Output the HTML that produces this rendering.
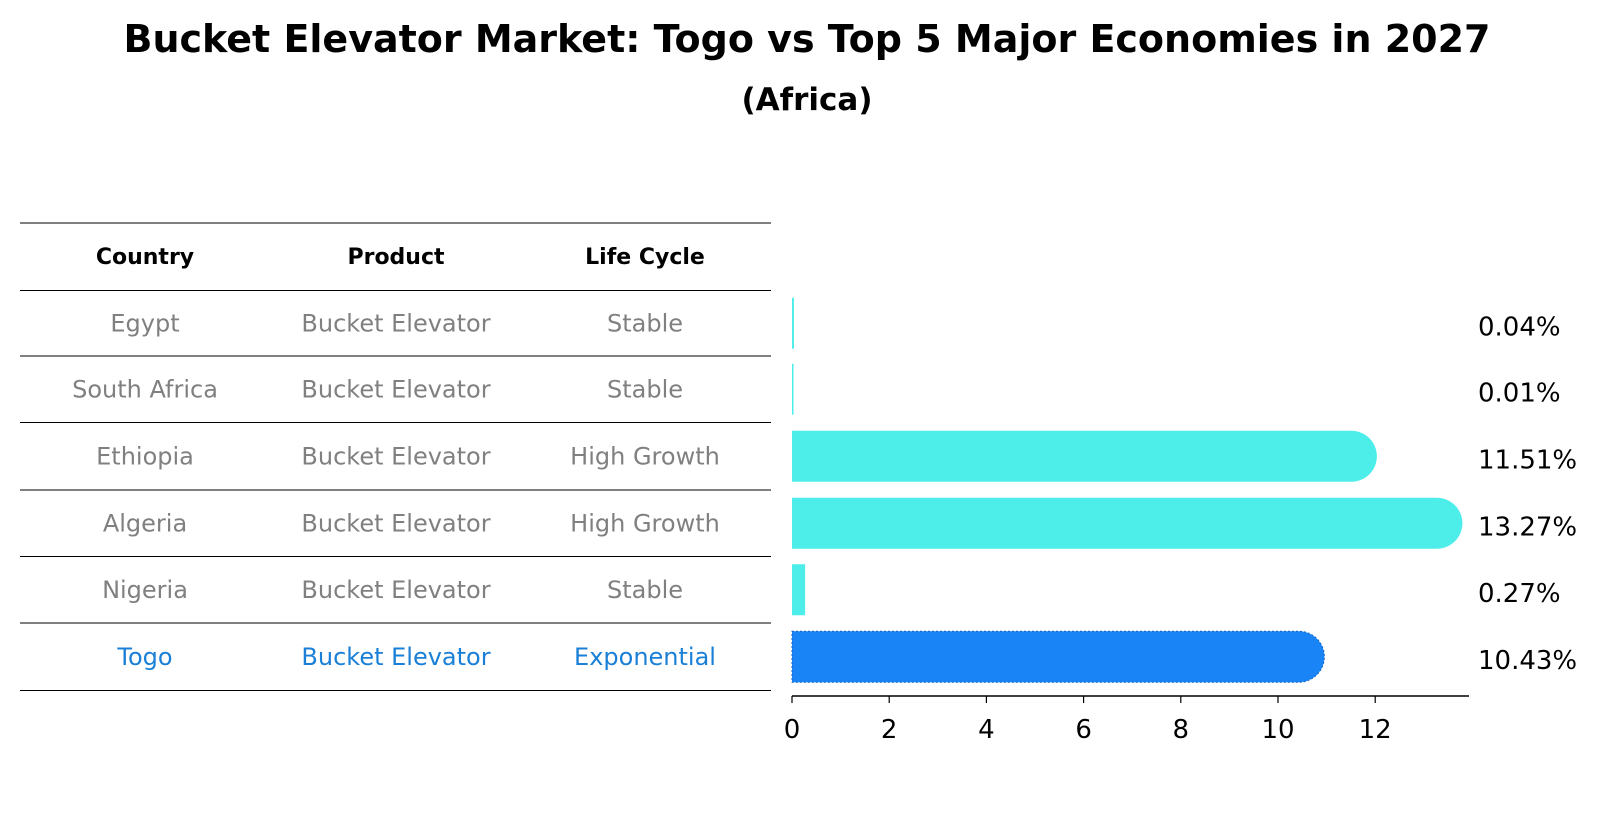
<!DOCTYPE html>
<html><head><meta charset="utf-8"><style>
body{margin:0;background:#fff;font-family:"Liberation Sans","DejaVu Sans",sans-serif;}
svg text{font-family:"DejaVu Sans","Liberation Sans",sans-serif;}
</style></head><body>
<svg width="1604" height="823" xmlns="http://www.w3.org/2000/svg">
<text x="807" y="52" font-size="38" font-weight="bold" text-anchor="middle">Bucket Elevator Market: Togo vs Top 5 Major Economies in 2027</text>
<text x="807" y="110" font-size="31" font-weight="bold" text-anchor="middle">(Africa)</text>
<g id="table"></g>
<g id="bars"></g>
</svg>
<script>
const countries=["Egypt","South Africa","Ethiopia","Algeria","Nigeria","Togo"];
const products=["Bucket Elevator","Bucket Elevator","Bucket Elevator","Bucket Elevator","Bucket Elevator","Bucket Elevator"];
const lifeCycles=["Stable","Stable","High Growth","High Growth","Stable","Exponential"];
const values=[0.04,0.01,11.51,13.27,0.27,10.43];
const ticks=[0,2,4,6,8,10,12];
const NS="http://www.w3.org/2000/svg";
const tbl=document.getElementById('table'), bars=document.getElementById('bars');
function mk(p,tag,at,txt){const e=document.createElementNS(NS,tag);for(const k in at)e.setAttribute(k,at[k]);if(txt!==undefined)e.textContent=txt;p.appendChild(e);return e;}
const x0=792,ux=48.6;const X=v=>x0+v*ux;
const lineY=[223,290.5,356,422.5,490,556.5,623,690.5];
const colX=[145,396,645];
lineY.forEach((y,i)=>{const l=mk(tbl,'line',{x1:20,x2:771,y1:y,y2:y,stroke:'#000','stroke-width':1});

});
["Country","Product","Life Cycle"].forEach((h,i)=>{const t=mk(tbl,'text',{x:colX[i],y:264,'font-size':22,'font-weight':'bold','text-anchor':'middle'},h);

});
countries.forEach((c,i)=>{
 const cy=(lineY[i+1]+lineY[i+2])/2;
 const col=i===countries.length-1?'#1a7fd6':'#808080';
 [c,products[i],lifeCycles[i]].forEach((s,j)=>{const t=mk(tbl,'text',{x:colX[j],y:cy+8,'font-size':24,fill:col,'text-anchor':'middle'},s);
 
 });
 const h=51, top=cy-h/2, w=X(values[i])-x0;
 const isT=i===countries.length-1;
 const fill=isT?'#1984f5':'#4deeea';
 const r=h/2;
 let d;
 if(w>r){d=`M${x0},${top}H${x0+w}A${r},${r} 0 0 1 ${x0+w},${top+h}H${x0}Z`;}
 else d=`M${x0},${top}h${Math.max(w,1.5)}v${h}h${-Math.max(w,1.5)}Z`;
 const b=mk(bars,'path',{d:d,fill:fill});
 if(isT){b.setAttribute('stroke','#1466c8');b.setAttribute('stroke-dasharray','2,2');b.setAttribute('stroke-width','1');}
 
 
 const v=mk(bars,'text',{x:1478,y:cy+12,'font-size':26,fill:'#000'},values[i].toFixed(2)+'%');
 
 
});
const ax=mk(bars,'line',{x1:x0,x2:1469,y1:696,y2:696,stroke:'#000','stroke-width':1.5});


ticks.forEach(t=>{const l=mk(bars,'line',{x1:X(t),x2:X(t),y1:696,y2:703,stroke:'#000','stroke-width':1.2});


const tx=mk(bars,'text',{x:X(t),y:738,'font-size':26,'text-anchor':'middle'},String(t));

});
</script>
</body></html>
